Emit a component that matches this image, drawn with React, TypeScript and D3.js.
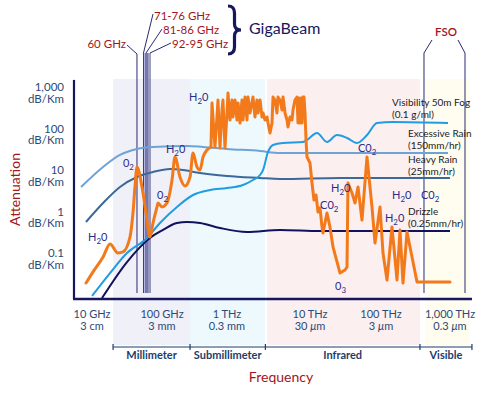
import React from "react";
import * as d3 from "d3";

const FONT = "Lato, 'Open Sans', 'DejaVu Sans', sans-serif";

// ---------- axes (frequency in GHz, attenuation in dB/km) ----------
const xTickFreqs = [10, 100, 1000, 10000, 100000, 1000000];
const xTickNames = ["10 GHz", "100 GHz", "1 THz", "10 THz", "100 THz", "1,000 THz"];
const xTickWaveNums = ["3", "3", "0.3", "30", "3", "0.3"];
const xTickWaveUnits = ["cm", "mm", "mm", "μm", "μm", "μm"];
const xExtent = [5.53, 2080000];

const yTickValues = [1000, 100, 10, 1, 0.1];
const yTickNames = ["1,000", "100", "10", "1", "0.1"];
const yUnit = "dB/Km";
const yExtent = [0.0092, 1750];

// ---------- spectrum regions ----------
const bracketEdges = [20, 270, 2900, 367000, 2080000];
const bracketNames = ["Millimeter", "Submillimeter", "Infrared", "Visible"];
const bandStarts = [20, 270, 3035, 434000];
const bandEnds = [270, 2870, 367000, 1950000];

// ---------- annotation frequencies ----------
const line60GHz = 43.9;
const gigaBeamLines = [54.4, 59.1, 63.1, 67.4];
const gigaBeamLabels = ["71-76 GHz", "81-86 GHz", "92-95 GHz"];
const fsoLines = [419800, 1650000];

// ---------- series [GHz, dB/km] ----------
const fog = [
  [10, 0.0109], [18.1, 0.0389], [31.6, 0.118], [61.1, 0.272], [93.6, 0.624], [170, 1.52],
  [300, 2.95], [547, 3.89], [1000, 4.35], [1559, 5.14], [2056, 6.78], [2500, 8.95],
  [2716, 11.8], [3120, 32.1], [3584, 47.3], [4732, 52.8], [8240, 55.8], [9205, 62.4],
  [12550, 92], [17350, 55.8], [23990, 82], [33200, 69.7], [45940, 52.8], [63500, 82],
  [87800, 160], [149200, 169], [935000, 160],
];
const excessiveRain = [
  [6.97, 4.6], [14.4, 14.0], [25.1, 27.2], [43.9, 37.9], [74.4, 42.4], [242, 44.8],
  [428, 42.4], [1000, 37.9], [2500, 33.9], [4355, 30.3], [935000, 30.3],
];
const heavyRain = [
  [8.2, 0.659], [14.4, 1.89], [25.1, 4.6], [43.9, 8.0], [74.4, 10.6], [133, 12.5],
  [210, 11.8], [384, 10], [1000, 8.47], [2500, 7.59], [4355, 7.17], [26470, 7.59],
  [1000000, 7.59],
];
const drizzle = [
  [13.9, 0.0097], [31.6, 0.0716], [67.4, 0.272], [103.6, 0.424], [170, 0.624], [242, 0.659],
  [384, 0.624], [780, 0.473], [1742, 0.379], [4355, 0.424], [13840, 0.4], [1000000, 0.4],
];
const absorptionLow = [
  [8.2, 0.0223], [10.3, 0.041], [14.4, 0.0946], [18.1, 0.195], [23.5, 0.118], [27.7, 0.125],
  [34.9, 0.287], [38.5, 1.09], [41.1, 4.6], [43.9, 14.0], [51.8, 4.6], [59.1, 1.09],
  [67.4, 0.287], [74.4, 0.624], [84.9, 1.52], [87.7, 1.89], [100, 1.52], [119, 1.89],
  [142.6, 6.78], [158.5, 24.3], [189, 8.0], [226, 4.86], [270, 8.0], [300, 30.3],
  [345, 14.0], [384, 11.8], [428, 24.3], [492, 35.8], [567, 42.4],
];
const absorptionHigh = [
  [567, 42.4], [588, 486], [653, 42.4], [701, 224], [727, 574], [780, 40], [838, 330],
  [867, 574], [931, 40], [1000, 279], [1028, 847], [1087, 189], [1149, 574], [1180, 224],
  [1249, 574], [1319, 189], [1358, 486], [1435, 160], [1516, 574], [1559, 189], [1649, 678],
  [1742, 189], [1791, 678], [1893, 279], [2056, 678], [2173, 224], [2296, 574], [2361, 279],
  [2500, 574], [2641, 224], [2716, 279], [2870, 189], [3035, 224], [3120, 160], [3298, 92],
  [3486, 160], [3584, 678], [3786, 574], [4000, 279], [4111, 678], [4355, 574], [4600, 330],
  [4732, 678], [5000, 279], [5285, 189], [5433, 128], [5743, 224], [6070, 189], [6240, 330],
  [6590, 574], [6970, 678], [7166, 160], [7370, 641], [7580, 160], [7795, 641], [8013, 160],
  [8240, 678], [8470, 678], [8710, 279], [8955, 62.4], [9205, 24.3], [10000, 17.4],
  [10670, 5.74], [11380, 2.23], [12150, 2.95], [12970, 1.15], [13840, 1.44], [14760, 0.5],
  [15250, 0.358], [17350, 1.09], [19120, 0.5], [21090, 0.165], [26470, 0.0389],
  [31130, 0.046], [33200, 0.0543], [34280, 5.74], [39060, 3.3], [43050, 1.89], [47440, 4.6],
  [53980, 0.736], [63500, 24.3], [74660, 1.52], [82300, 0.206], [96800, 1.52],
  [106900, 0.118], [122200, 0.0264], [144300, 0.5], [170600, 0.0264], [188500, 0.424],
  [208300, 0.0223], [238200, 0.379], [332600, 0.0236], [1000000, 0.0236],
];

// ---------- absorption line labels [text, GHz, dB/km] ----------
const chemLabels: [string, number, number][] = [
  ["H₂0", 8.77, 0.23],
  ["0₂", 27.7, 14.0],
  ["H₂0", 115, 30.3],
  ["0₂", 84.9, 2.36],
  ["H₂0", 260, 543],
  ["C0₂", 47440, 32.1],
  ["H₂0", 19770, 3.48],
  ["C0₂", 13840, 1.36],
  ["0₃", 22490, 0.0152],
  ["H₂0", 144300, 2.36],
  ["C0₂", 380000, 2.36],
  ["H₂0", 114000, 0.659],
];

const seriesNames = [
  ["Visibility 50m Fog", "(0.1 g/ml)"],
  ["Excessive Rain", "(150mm/hr)"],
  ["Heavy Rain", "(25mm/hr)"],
  ["Drizzle", "(0.25mm/hr)"],
];

// ---------- styles ----------
const RED = "#a3161c";
const NAVY = "#17175e";
const CHEM = "#2b2b88";
const TICK = "#2c4a78";
const bandColors = ["#f0f0f8", "#edf9fd", "#fcefef", "#fefdf0"];
const C_ORANGE = "#f27a1a";
const C_FOG = "#1f9ce2";
const C_EXC = "#6ea3d6";
const C_HEAVY = "#3c6999";
const C_DRIZ = "#12125c";

function Chem({ text, x, y, size, fill }: { text: string; x: number; y: number; size: number; fill: string }) {
  let sub = false;
  const parts = Array.from(text).map((ch, i) => {
    const isSub = ch === "₂" || ch === "₃";
    const g = ch === "₂" ? "2" : ch === "₃" ? "3" : ch;
    let dy = 0;
    if (isSub && !sub) dy = 3;
    if (!isSub && sub) dy = -3;
    sub = isSub;
    return (
      <tspan key={i} dy={dy} fontSize={isSub ? size * 0.72 : size}>
        {g}
      </tspan>
    );
  });
  return (
    <text x={x} y={y} fill={fill} fontSize={size} fontFamily={FONT}>
      {parts}
    </text>
  );
}

export default function App() {
  const W = 485;
  const H = 396;
  const x = d3.scaleLog().domain(xTickFreqs).range([92, 162, 227, 310, 381, 450]);
  const y = d3.scaleLog().domain([0.1, 1000]).range([256, 90]);

  const smooth = d3
    .line<number[]>()
    .x((d) => x(d[0]))
    .y((d) => y(d[1]))
    .curve(d3.curveMonotoneX);
  const jagged = d3
    .line<number[]>()
    .x((d) => x(d[0]))
    .y((d) => y(d[1]));

  const ax0 = x(xExtent[0]);
  const ax1 = x(xExtent[1]);
  const ay0 = y(yExtent[0]);
  const ay1 = y(yExtent[1]);

  const bandTop = 79;
  const bandBottom = 345;
  const lineTop = 53;
  const lineBottom = 293;
  const bracketY = 347;

  const labelRows = [
    [105.5, 117.5],
    [136.5, 149],
    [162.5, 175],
    [214.5, 227],
  ];
  const labelX = [392, 408, 408, 408];

  return (
    <div style={{ position: "absolute", left: 0, top: 0 }}>
      <svg width={W} height={H} style={{ display: "block", background: "#fff" }} fontFamily={FONT}>
        {/* spectrum bands */}
        {bandStarts.map((s, i) => (
          <rect
            key={"b" + i}
            x={x(s)}
            y={bandTop}
            width={x(bandEnds[i]) - x(s)}
            height={bandBottom - bandTop}
            fill={bandColors[i]}
          />
        ))}

        {/* 60 GHz line */}
        <line x1={x(line60GHz)} x2={x(line60GHz)} y1={lineTop + 1} y2={lineBottom} stroke="#2a2a72" strokeWidth={1} />
        <line x1={127} y1={45} x2={x(line60GHz)} y2={lineTop + 1} stroke="#2a2a72" strokeWidth={1} />
        <text x={126} y={48} textAnchor="end" fontSize={11.5} fill={RED}>
          60 GHz
        </text>

        {/* GigaBeam bands */}
        <rect
          x={x(gigaBeamLines[0])}
          y={lineTop}
          width={x(gigaBeamLines[2]) - x(gigaBeamLines[0])}
          height={lineBottom - lineTop}
          fill="#b6b6e2"
        />
        {gigaBeamLines.map((f, i) => (
          <line key={"g" + i} x1={x(f)} x2={x(f)} y1={lineTop} y2={lineBottom} stroke="#2a2a72" strokeWidth={0.9} />
        ))}
        <line x1={153} y1={14} x2={x(gigaBeamLines[0])} y2={lineTop} stroke="#2a2a72" strokeWidth={1} />
        <line x1={162} y1={29} x2={x(gigaBeamLines[1])} y2={lineTop} stroke="#2a2a72" strokeWidth={1} />
        <line x1={171} y1={43} x2={x(gigaBeamLines[3])} y2={lineTop} stroke="#2a2a72" strokeWidth={1} />
        {gigaBeamLabels.map((t, i) => (
          <text key={"gl" + i} x={154 + i * 9} y={20 + i * 14} fontSize={11.5} fill={RED}>
            {t}
          </text>
        ))}
        <path
          d="M228,6 Q234.5,6 234.5,13 L234.5,24 Q234.5,30 241,30 Q234.5,30 234.5,36 L234.5,47 Q234.5,54 228,54"
          fill="none"
          stroke={NAVY}
          strokeWidth={3.2}
        />
        <text x={249} y={34} fontSize={16} fill={NAVY}>
          GigaBeam
        </text>

        {/* FSO */}
        <polyline
          points={`432,40 ${x(fsoLines[0])},${lineTop} ${x(fsoLines[0])},${lineBottom}`}
          fill="none"
          stroke="#2a2a72"
          strokeWidth={1}
        />
        <polyline
          points={`458,40 ${x(fsoLines[1])},${lineTop} ${x(fsoLines[1])},${lineBottom}`}
          fill="none"
          stroke="#2a2a72"
          strokeWidth={1}
        />
        <text x={446} y={36} textAnchor="middle" fontSize={11.5} fontWeight={600} fill={RED}>
          FSO
        </text>

        {/* curves */}
        <path d={smooth(excessiveRain) || ""} fill="none" stroke={C_EXC} strokeWidth={2} />
        <path d={smooth(heavyRain) || ""} fill="none" stroke={C_HEAVY} strokeWidth={2} />
        <path d={smooth(drizzle) || ""} fill="none" stroke={C_DRIZ} strokeWidth={2} />
        <path d={smooth(fog) || ""} fill="none" stroke={C_FOG} strokeWidth={2} />
        <path
          d={smooth(absorptionLow) || ""}
          fill="none"
          stroke={C_ORANGE}
          strokeWidth={3}
          strokeLinejoin="round"
          strokeLinecap="round"
        />
        <path
          d={jagged(absorptionHigh) || ""}
          fill="none"
          stroke={C_ORANGE}
          strokeWidth={3}
          strokeLinejoin="round"
          strokeLinecap="round"
        />

        {/* absorption labels */}
        {chemLabels.map(([t, f, v], i) => (
          <Chem key={"c" + i} text={t} x={x(f)} y={y(v)} size={11} fill={CHEM} />
        ))}

        {/* series labels */}
        {seriesNames.map((n, i) => (
          <g key={"s" + i} fontSize={10} fill="#1c1c1c">
            <text x={labelX[i]} y={labelRows[i][0]}>
              {n[0]}
            </text>
            <text x={labelX[i]} y={labelRows[i][1]}>
              {n[1]}
            </text>
          </g>
        ))}

        {/* axes */}
        <line x1={ax0} x2={ax0} y1={ay1} y2={ay0} stroke={NAVY} strokeWidth={2.2} />
        <line x1={ax0 - 1} x2={ax1} y1={ay0} y2={ay0} stroke={NAVY} strokeWidth={2.6} />

        {/* y tick labels */}
        {yTickValues.map((v, i) => (
          <g key={"y" + i} fontSize={11.5} fill={TICK} textAnchor="end">
            <text x={64} y={y(v) + 1}>
              {yTickNames[i]}
            </text>
            <text x={64} y={y(v) + 12.5}>
              {yUnit}
            </text>
          </g>
        ))}
        <text
          transform={`translate(20,${(ay0 + ay1) / 2}) rotate(-90)`}
          textAnchor="middle"
          fontSize={14}
          fill={RED}
        >
          Attenuation
        </text>

        {/* x tick labels */}
        {xTickFreqs.map((f, i) => (
          <g key={"x" + i} fontSize={11} fill={TICK} textAnchor="middle">
            <text x={x(f)} y={318}>
              {xTickNames[i]}
            </text>
            <text x={x(f)} y={330}>
              {xTickWaveNums[i] + " "}
              {xTickWaveUnits[i].startsWith("μ") ? (
                <>
                  <tspan fontStyle="italic">μ</tspan>
                  {xTickWaveUnits[i].slice(1)}
                </>
              ) : (
                xTickWaveUnits[i]
              )}
            </text>
          </g>
        ))}

        {/* region brackets */}
        <line x1={x(bracketEdges[0])} x2={x(bracketEdges[bracketEdges.length - 1])} y1={bracketY} y2={bracketY} stroke="#1d3c6c" strokeWidth={1.2} />
        {bracketEdges.map((f, i) => (
          <line key={"t" + i} x1={x(f)} x2={x(f)} y1={bracketY - 3} y2={bracketY + 3} stroke="#1d3c6c" strokeWidth={1.2} />
        ))}
        {bracketNames.map((n, i) => (
          <text
            key={"bn" + i}
            x={(x(bracketEdges[i]) + x(bracketEdges[i + 1])) / 2}
            y={359}
            textAnchor="middle"
            fontSize={11}
            fontWeight={700}
            fill="#1d3c6c"
          >
            {n}
          </text>
        ))}
        <text x={281} y={382} textAnchor="middle" fontSize={14} fill={RED}>
          Frequency
        </text>
      </svg>
    </div>
  );
}
